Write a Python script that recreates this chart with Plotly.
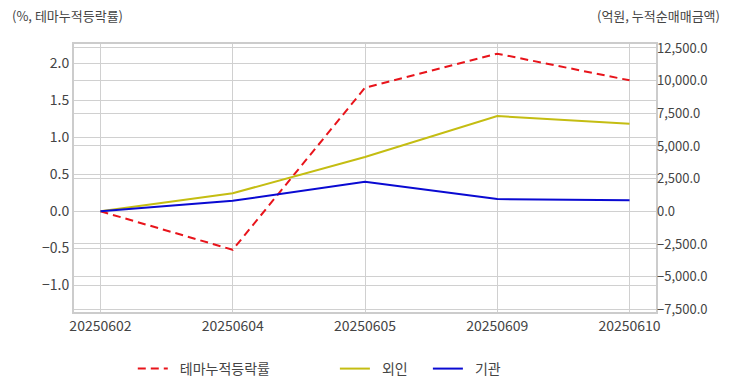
import plotly.graph_objects as go

dates = ["20250602", "20250604", "20250605", "20250609", "20250610"]
theme_rate = [0.0, -0.52, 1.67, 2.13, 1.77]
foreign = [0.0, 1380.0, 4150.0, 7290.0, 6700.0]
institution = [0.0, 810.0, 2260.0, 940.0, 840.0]

left_ticks = [-1.0, -0.5, 0.0, 0.5, 1.0, 1.5, 2.0]
right_ticks = [-7500, -5000, -2500, 0, 2500, 5000, 7500, 10000, 12500]

FONT = "Noto Sans CJK KR"
GRID = "#d0d0d0"
TXT = "#444444"

fig = go.Figure()
fig.add_trace(go.Scatter(x=dates, y=theme_rate, name="\u2002테마누적등락률", mode="lines",
                         line=dict(color="#e8141b", width=2, dash="8px,5px"),
                         yaxis="y", legend="legend"))
fig.add_trace(go.Scatter(x=dates, y=foreign, name="\u2002외인", mode="lines",
                         line=dict(color="#c4bd12", width=2),
                         yaxis="y2", legend="legend2"))
fig.add_trace(go.Scatter(x=dates, y=institution, name="\u2002기관", mode="lines",
                         line=dict(color="#0a0ad2", width=2),
                         yaxis="y2", legend="legend2"))

fig.update_layout(
    width=732, height=392,
    margin=dict(l=74, r=76, t=44, b=80, autoexpand=False),
    paper_bgcolor="white", plot_bgcolor="white",
    font=dict(family=FONT, size=12, color=TXT),
    xaxis=dict(type="category", range=[-0.2, 4.2], showgrid=True, gridcolor=GRID,
               showline=True, mirror=True, linecolor="#cccccc", linewidth=2,
               ticks="", tickfont=dict(size=14, color=TXT), zeroline=False,
               automargin=False),
    yaxis=dict(range=[-1.361, 2.261], tickvals=left_ticks, tickformat=".1f",
               showgrid=True, gridcolor=GRID, zeroline=False,
               showline=True, mirror=True, linecolor="#cccccc", linewidth=2,
               tickfont=dict(size=14, color=TXT), automargin=False),
    yaxis2=dict(range=[-7706, 12803], tickvals=right_ticks, tickformat=",.1f",
                overlaying="y", side="right", showgrid=True, gridcolor=GRID,
                zeroline=False, tickfont=dict(size=13, color=TXT), automargin=False),
    legend=dict(orientation="h", xref="container", yref="container",
                x=0.1814, xanchor="left", y=0.0587, yanchor="middle",
                font=dict(size=14, color=TXT), bgcolor="rgba(0,0,0,0)"),
    legend2=dict(orientation="h", xref="container", yref="container",
                 x=0.4575, xanchor="left", y=0.0587, yanchor="middle",
                 font=dict(size=14, color=TXT), entrywidth=48, entrywidthmode="pixels",
                 bgcolor="rgba(0,0,0,0)"),
    showlegend=True,
    annotations=[
        dict(text="(%, 테마누적등락률)", xref="paper", yref="paper", x=-0.11, y=1.1045,
             xanchor="left", yanchor="middle", showarrow=False,
             font=dict(size=13, color=TXT)),
        dict(text="(억원, 누적순매매금액)", xref="paper", yref="paper", x=1.1134, y=1.1045,
             xanchor="right", yanchor="middle", showarrow=False,
             font=dict(size=13, color=TXT)),
    ],
)

fig.write_html("out.html", post_script="document.body.style.margin='0px';",
               config={"displayModeBar": False})
